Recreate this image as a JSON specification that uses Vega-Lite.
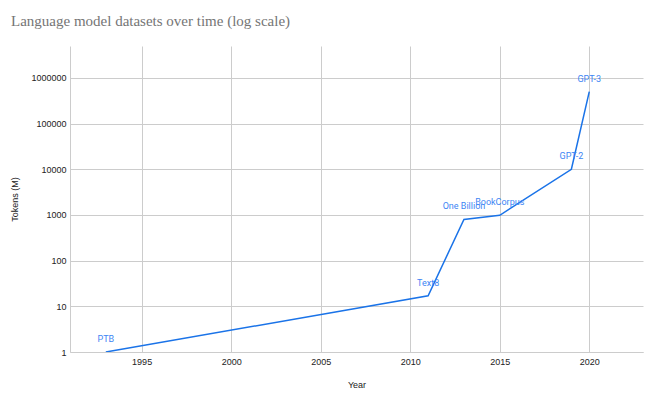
{
  "$schema": "https://vega.github.io/schema/vega-lite/v6.json",
  "autosize": "none",
  "width": 573,
  "height": 306,
  "padding": {"left": 70, "top": 46, "right": 7, "bottom": 46},
  "background": "white",
  "title": {
    "text": "Language model datasets over time (log scale)",
    "font": "Liberation Serif",
    "fontSize": 15,
    "fontWeight": "normal",
    "color": "#757575",
    "anchor": "start",
    "frame": "group",
    "dx": -59,
    "offset": 17
  },
  "data": {
    "values": [
      {"name": "PTB", "year": 1993, "tokens": 1},
      {"name": "Text8", "year": 2011, "tokens": 17},
      {"name": "One Billion", "year": 2013, "tokens": 800},
      {"name": "BookCorpus", "year": 2015, "tokens": 985},
      {"name": "GPT-2", "year": 2019, "tokens": 10000},
      {"name": "GPT-3", "year": 2020, "tokens": 500000}
    ]
  },
  "encoding": {
    "x": {
      "field": "year",
      "type": "quantitative",
      "scale": {"domain": [1991, 2023], "nice": false, "zero": false},
      "axis": {
        "title": "Year",
        "values": [1995, 2000, 2005, 2010, 2015, 2020],
        "format": "d",
        "grid": true,
        "gridColor": "#cccccc",
        "domainColor": "#cccccc",
        "ticks": false,
        "labelPadding": 5,
        "labelFont": "Liberation Sans",
        "labelFontSize": 9,
        "labelColor": "#222222",
        "titleFont": "Liberation Sans",
        "titleFontSize": 9,
        "titleFontWeight": "normal",
        "titleColor": "#222222",
        "titlePadding": 14
      }
    },
    "y": {
      "field": "tokens",
      "type": "quantitative",
      "scale": {"type": "log", "domain": [1, 5000000], "nice": false},
      "axis": {
        "title": "Tokens (M)",
        "values": [1, 10, 100, 1000, 10000, 100000, 1000000],
        "format": "d",
        "grid": true,
        "gridColor": "#cccccc",
        "domainColor": "#cccccc",
        "ticks": false,
        "labelPadding": 4,
        "labelFont": "Liberation Sans",
        "labelFontSize": 9,
        "labelColor": "#222222",
        "titleFont": "Liberation Sans",
        "titleFontSize": 9,
        "titleFontWeight": "normal",
        "titleColor": "#222222",
        "titlePadding": 11
      }
    }
  },
  "layer": [
    {"mark": {"type": "line", "color": "#1a73e8", "strokeWidth": 1.5, "clip": true}},
    {
      "mark": {"type": "text", "dy": -13, "align": "center", "font": "Roboto", "fontSize": 9, "color": "#3d85f4"},
      "encoding": {"text": {"field": "name"}}
    }
  ],
  "config": {"view": {"stroke": null}}
}
